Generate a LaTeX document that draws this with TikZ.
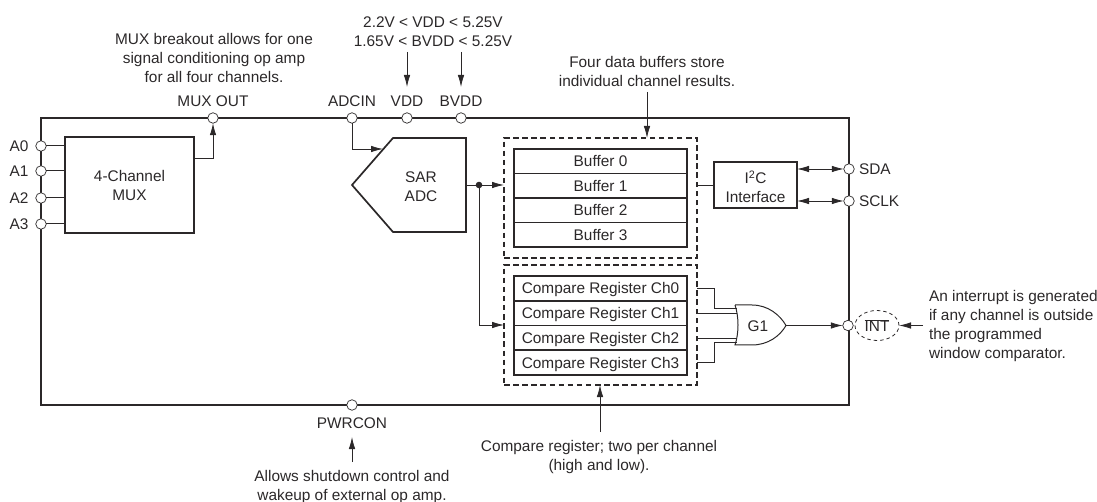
\documentclass[tikz,border=0pt]{standalone}
\usepackage{fontspec}
\setmainfont{Liberation Sans}
\usetikzlibrary{arrows.meta,shapes.geometric,calc}
\definecolor{ink}{HTML}{2B2829}
\tikzset{
  x=1pt,y=-1pt,
  every node/.style={text=ink,font=\fontsize{15.4}{19}\selectfont},
  txt/.style={align=center,inner sep=0pt,outer sep=0pt},
  pin/.style={circle,draw=ink,fill=white,line width=0.7pt,minimum size=10.5pt,inner sep=0pt,outer sep=0pt},
  box/.style={rectangle,draw=ink,line width=1.7pt,inner sep=0pt,outer sep=0pt},
  cell/.style={rectangle,draw=ink,line width=1.6pt,inner sep=0pt,outer sep=0pt,minimum width=173pt,text height=14pt,text depth=3pt},
  grp/.style={rectangle,draw=ink,line width=1.6pt,dash pattern=on 5.5pt off 3.6pt,inner sep=0pt,outer sep=0pt,minimum width=193pt},
  wire/.style={draw=ink,line width=0.8pt},
  arr/.style={wire,-{Latex[length=12pt,width=6.5pt]}},
  dbl/.style={wire,{Latex[length=12pt,width=6.5pt]}-{Latex[length=12pt,width=6.5pt]}},
}
\begin{document}
\begin{tikzpicture}
\useasboundingbox (0,0) rectangle (1097,502);
% chip outline
\node[box,minimum width=808pt,minimum height=287pt] (chip) at (445,261.5) {};
% main blocks
\node[box,minimum width=129pt,minimum height=96pt,align=center] (mux) at (129.5,185) {4-Channel\\MUX};
\draw[line width=1.7pt,draw=ink,line join=miter] (352,185) coordinate (adctip) -- (393,138) -- (466,138) coordinate (adctr) -- (466,232) coordinate (adcbr) -- (393,232) -- cycle;
\node[txt] (adc) at (421,186.5) {SAR\\ADC};
\node[grp,minimum height=120pt] (bufgrp) at (600.5,198) {};
\node[grp,minimum height=120pt] (cmpgrp) at (600.5,325) {};
\node[cell,minimum height=24.5pt] (b0) at (600.5,161.25) {Buffer 0};
\node[cell,minimum height=24.5pt] (b1) at (600.5,185.75) {Buffer 1};
\node[cell,minimum height=24.5pt] (b2) at (600.5,210.25) {Buffer 2};
\node[cell,minimum height=24.5pt] (b3) at (600.5,234.75) {Buffer 3};
\node[cell,minimum height=24.75pt] (c0) at (600.5,288.4) {Compare Register Ch0};
\node[cell,minimum height=24.75pt] (c1) at (600.5,313.1) {Compare Register Ch1};
\node[cell,minimum height=24.75pt] (c2) at (600.5,337.9) {Compare Register Ch2};
\node[cell,minimum height=24.75pt] (c3) at (600.5,362.6) {Compare Register Ch3};
\node[box,minimum width=83pt,minimum height=46pt] (i2c) at (755.5,185) {};
\node[txt] (i2clbl) at (755.5,187) {I\textsuperscript{2}C\\Interface};
% OR gate
\draw[wire,line width=1pt,fill=white] (735,305) coordinate (gtop) -- (752,305) .. controls (768,305) and (780,315) .. (786,325.5) coordinate (gout) .. controls (780,336) and (768,345) .. (752,345) -- (735,345) coordinate (gbot) .. controls (739,333) and (739,317) .. (735,305);
\node[txt] (g1) at (758,326.5) {G1};
% pins
\node[pin] (a0) at (41,146) {};
\node[pin] (a1) at (41,171) {};
\node[pin] (a2) at (41,198) {};
\node[pin] (a3) at (41,224) {};
\node[pin] (muxout) at (213,118) {};
\node[pin] (adcin) at (352,118) {};
\node[pin] (vdd) at (407,118) {};
\node[pin] (bvdd) at (461,118) {};
\node[pin] (sda) at (849,169) {};
\node[pin] (sclk) at (849,201) {};
\node[pin] (intp) at (848,325.5) {};
\node[pin] (pwr) at (352,405) {};
% pin labels
\node[txt] at (19,146) {A0};
\node[txt] at (19,171) {A1};
\node[txt] at (19,198) {A2};
\node[txt] at (19,224) {A3};
\node[txt] at (213,101.5) {MUX OUT};
\node[txt] at (352,101.5) {ADCIN};
\node[txt] at (407,101.5) {VDD};
\node[txt] at (461,101.5) {BVDD};
\node[txt,anchor=west] at (859,169) {SDA};
\node[txt,anchor=west] at (859,201) {SCLK};
\node[txt] at (352,423) {PWRCON};
\node[draw=ink,ellipse,line width=0.8pt,dash pattern=on 3.5pt off 3pt,minimum width=44pt,minimum height=30pt,inner sep=0pt,outer sep=0pt] (intel) at (877,325.5) {$\overline{\mbox{INT}}$};
% notes
\node[txt] (nmux) at (214,58) {MUX breakout allows for one\\signal conditioning op amp\\for all four channels.};
\node[txt] (nvdd) at (433,31.5) {2.2V < VDD < 5.25V\\1.65V < BVDD < 5.25V};
\node[txt] (nbuf) at (647,71.5) {Four data buffers store\\individual channel results.};
\node[txt] (npwr) at (352,487.5) {Allows shutdown control and\\wakeup of external op amp.};
\node[txt] (ncmp) at (599,457.5) {Compare register; two per channel\\(high and low).};
\node[txt,align=left,anchor=west] (nint) at (929,326) {An interrupt is generated\\if any channel is outside\\the programmed\\window comparator.};
% connectors
\foreach \p in {a0,a1,a2,a3} \draw[wire,line width=1pt] (\p) -- (\p -| mux.west);
\coordinate (muxo) at (194,158);
\draw[arr] (muxo) -| (muxout.south);
\coordinate (adcen) at (383,149);
\draw[arr] (adcin.south) |- (adcen);
\coordinate (adco) at (466,185);
\coordinate (dot) at (479,185);
\draw[arr] (adco) -- (adco -| bufgrp.west);
\fill[ink] (dot) circle (3.3pt);
\draw[arr] (dot) |- (cmpgrp.west);
\draw[wire] (i2c.west) -- (i2c.west -| bufgrp.east);
\draw[dbl] (i2c.east |- sda) -- (sda.west);
\draw[dbl] (i2c.east |- sclk) -- (sclk.west);
% gate inputs
\coordinate (k0) at (714,288);
\coordinate (k3) at (714,362);
\draw[wire] (k0 -| cmpgrp.east) -- (k0) -- (714,308) -- (737,308);
\draw[wire] (697,313) -- (737,313);
\draw[wire] (697,338) -- (737,338);
\draw[wire] (k3 -| cmpgrp.east) -- (k3) -- (714,342) -- (737,342);
\draw[arr] (gout) -- (gout -| intp.west);
% note arrows
\coordinate (v0) at (407,52);
\coordinate (v1) at (407,87);
\coordinate (bv0) at (461,52);
\coordinate (bv1) at (461,87);
\coordinate (bf0) at (647,92);
\coordinate (p0) at (352,462);
\coordinate (p1) at (352,437);
\coordinate (cp0) at (600,432);
\coordinate (i0) at (923,325.5);
\draw[arr] (v0) -- (v1);
\draw[arr] (bv0) -- (bv1);
\draw[arr] (bf0) -- (bf0 |- bufgrp.north);
\draw[arr] (p0) -- (p1);
\draw[arr] (cp0) -- (cp0 |- cmpgrp.south);
\draw[arr] (i0) -- (intel.east);
\end{tikzpicture}
\end{document}
